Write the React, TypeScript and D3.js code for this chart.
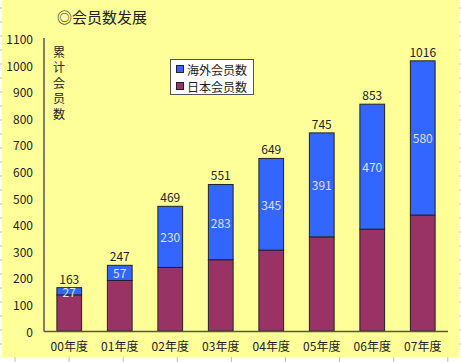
import React from 'react'
import * as d3 from 'd3'

const years = ['00年度', '01年度', '02年度', '03年度', '04年度', '05年度', '06年度', '07年度']
const japan = [136, 190, 239, 268, 304, 354, 383, 436]
const overseas = [27, 57, 230, 283, 345, 391, 470, 580]
const totals = [163, 247, 469, 551, 649, 745, 853, 1016]
const yTicks = [0, 100, 200, 300, 400, 500, 600, 700, 800, 900, 1000, 1100]

const W = 461
const H = 362
const FONT = '"Noto Sans CJK JP", "Noto Sans CJK SC", sans-serif'
const BLUE = '#3366ff'
const MAROON = '#993366'

export default function App() {
  const x = d3.scaleBand().domain(years).range([44, 448]).paddingInner(0.51).paddingOuter(0.255)
  const y = d3.scaleLinear().domain([0, 1100]).range([331, 38.5])

  const sideTicks = d3.range(8, 357, 14)
  const bottomTicks = d3.range(15, 460, 54.1)

  return (
    <svg width={W} height={H} style={{ position: 'absolute', left: 0, top: 0, fontFamily: FONT }}>
      <rect x={0} y={0} width={W} height={H} fill="#fff" />
      <rect x={2} y={0} width={457} height={357} fill="#ffff99" />
      {sideTicks.map(t => (
        <g key={t}>
          <line x1={0} x2={2} y1={t} y2={t} stroke="#bbb" />
          <line x1={459} x2={461} y1={t} y2={t} stroke="#bbb" />
        </g>
      ))}
      {bottomTicks.map(t => (
        <line key={t} x1={t} x2={t} y1={357} y2={362} stroke="#bbb" />
      ))}

      <text x={57} y={23} fontSize={15} fill="#222">◎会员数发展</text>

      {['累', '计', '会', '员', '数'].map((c, i) => (
        <text key={i} x={59} y={51 + i * 15.5} fontSize={12} fill="#222" textAnchor="middle" dominantBaseline="central">{c}</text>
      ))}

      {yTicks.map(t => (
        <text key={t} x={33} y={y(t)} fontSize={12} fill="#222" textAnchor="end" dominantBaseline="central">{t}</text>
      ))}

      {years.map((yr, i) => {
        const bx = x(yr)!
        const bw = x.bandwidth()
        const cx = bx + bw / 2
        const yJ = y(japan[i])
        const yT = y(japan[i] + overseas[i])
        return (
          <g key={yr}>
            <rect x={bx} y={yJ} width={bw} height={y(0) - yJ} fill={MAROON} stroke="#222" strokeWidth={1} />
            <rect x={bx} y={yT} width={bw} height={yJ - yT} fill={BLUE} stroke="#222" strokeWidth={1} />
            <text x={cx} y={(yJ + yT) / 2} fontSize={12} fill="#dde0ff" textAnchor="middle" dominantBaseline="central">{overseas[i]}</text>
            <text x={cx} y={yT - 9.5} fontSize={12} fill="#222" textAnchor="middle" dominantBaseline="central">{totals[i]}</text>
            <text x={cx} y={345} fontSize={12} fill="#222" textAnchor="middle" dominantBaseline="central">{yr}</text>
          </g>
        )
      })}

      <line x1={44} x2={44} y1={38} y2={331.5} stroke="#555" strokeWidth={1.5} />
      <line x1={44} x2={448} y1={331.5} y2={331.5} stroke="#555" strokeWidth={1.5} />

      <rect x={170.5} y={59.5} width={83} height={35} fill="#fff" stroke="#555" />
      <rect x={176.5} y={65.5} width={7} height={7} fill={BLUE} stroke="#222" />
      <text x={187} y={69} fontSize={12} fill="#222" dominantBaseline="central">海外会员数</text>
      <rect x={176.5} y={82.5} width={7} height={7} fill={MAROON} stroke="#222" />
      <text x={187} y={86} fontSize={12} fill="#222" dominantBaseline="central">日本会员数</text>
    </svg>
  )
}
